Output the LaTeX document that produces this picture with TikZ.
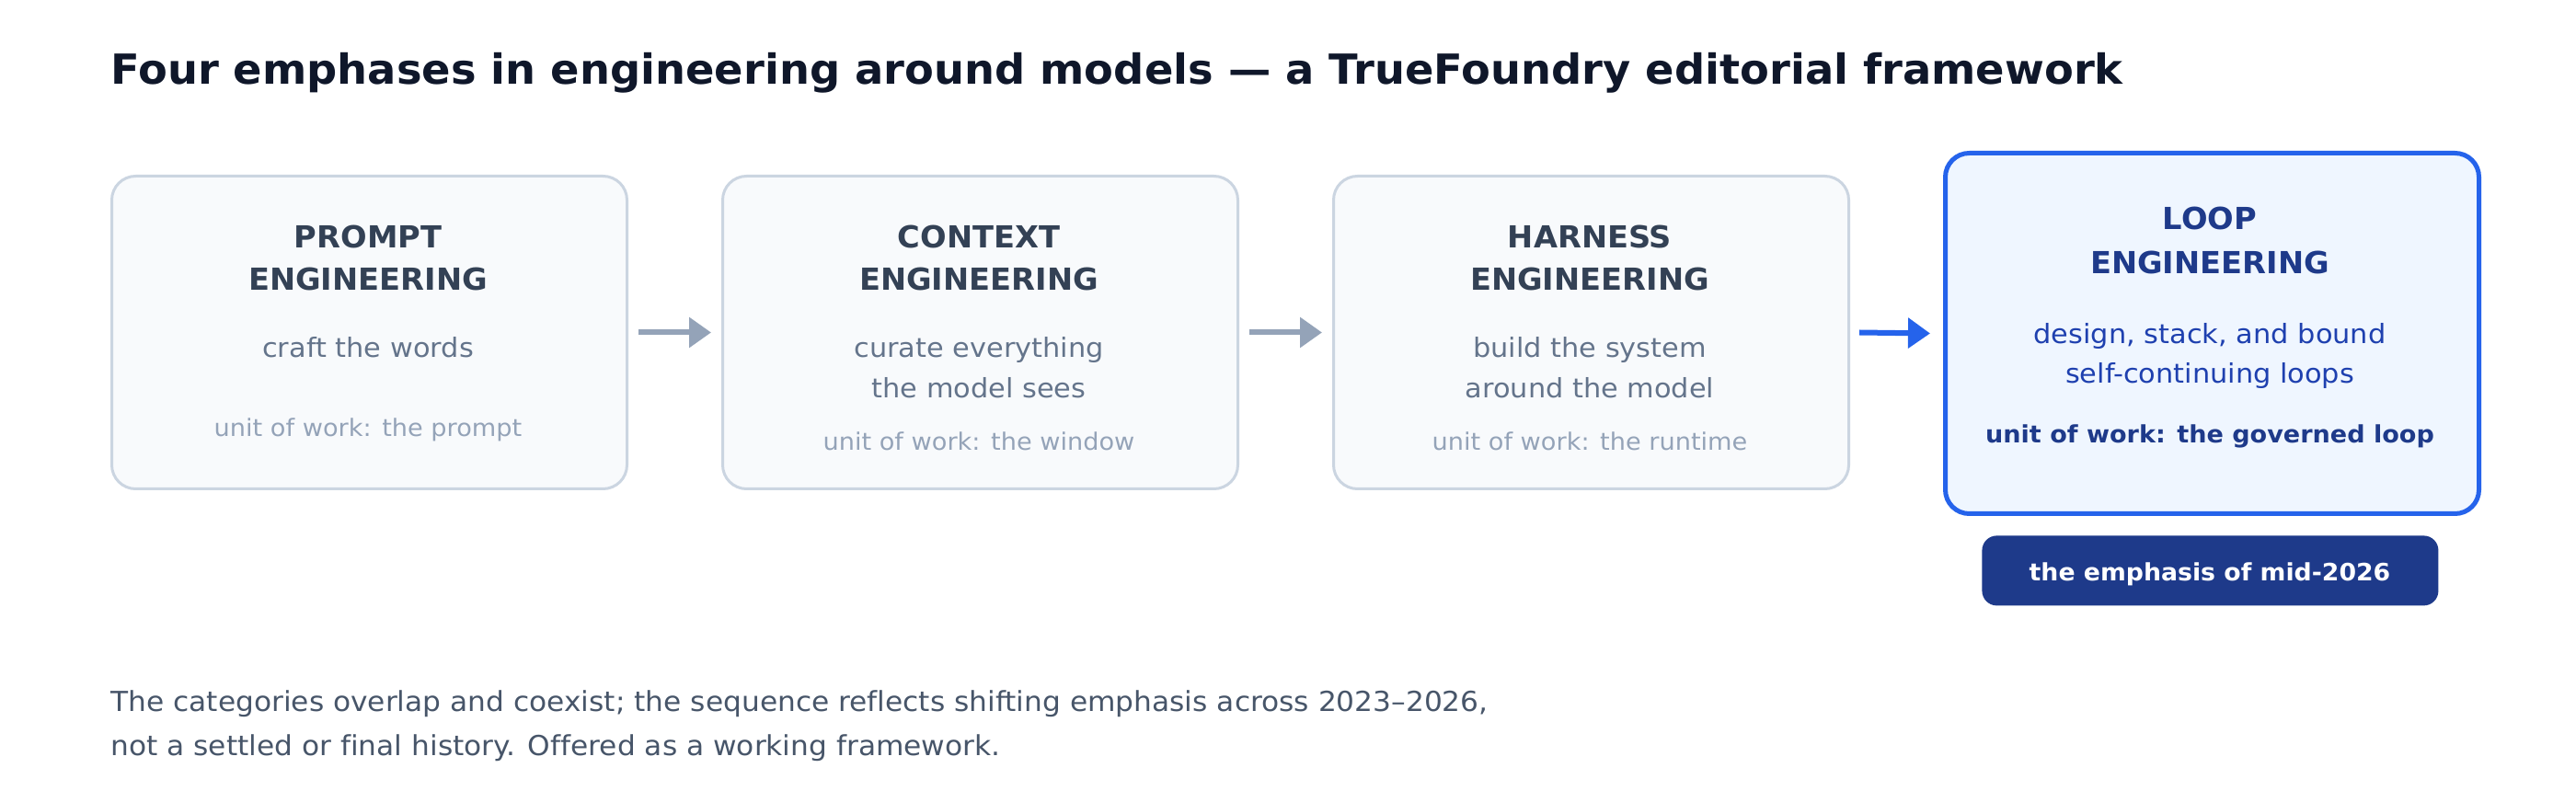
\documentclass[tikz,border=0pt]{standalone}
\usepackage{graphicx}
\usepackage{fontspec}
\setmainfont{DejaVu Sans}[Ligatures=NoCommon]
\usetikzlibrary{arrows.meta}
\definecolor{titlec}{HTML}{0F172A}
\definecolor{boxtitle}{HTML}{334155}
\definecolor{subc}{HTML}{64748B}
\definecolor{unitc}{HTML}{94A3B8}
\definecolor{gborder}{HTML}{CBD5E1}
\definecolor{gfill}{HTML}{F8FAFC}
\definecolor{bfill}{HTML}{EFF6FF}
\definecolor{bborder}{HTML}{2563EB}
\definecolor{navy}{HTML}{1E3A8A}
\definecolor{bsub}{HTML}{1E40AF}
\definecolor{footc}{HTML}{475569}
\definecolor{garrowc}{HTML}{94A3B8}
\newcommand{\hs}[2]{\scalebox{#1}[1]{#2}}
\tikzset{
  gbox/.style={draw=gborder, line width=1.5pt, fill=gfill, rounded corners=13pt, minimum width=280pt, minimum height=170pt, anchor=north west, inner sep=0pt},
  bbox/.style={draw=bborder, line width=2.5pt, fill=bfill, rounded corners=13pt, minimum width=290pt, minimum height=196pt, anchor=north west, inner sep=0pt},
  badge/.style={fill=navy, rounded corners=8pt, minimum width=248pt, minimum height=38pt, anchor=north west, inner sep=0pt},
  txt/.style={inner sep=0pt, anchor=base},
  ttl/.style={txt, font=\fontsize{16.5}{19}\selectfont\bfseries, text=boxtitle},
  sub/.style={txt, font=\fontsize{14.5}{17}\selectfont, text=subc},
  unit/.style={txt, font=\fontsize{13}{15}\selectfont, text=unitc},
  foot/.style={inner sep=0pt, anchor=base west, font=\fontsize{15}{18}\selectfont, text=footc},
  arr/.style={line width=3pt, -{Triangle[length=12pt,width=16pt]}},
}
\begin{document}
\begin{tikzpicture}[x=1pt,y=-1pt]
\useasboundingbox (0,0) rectangle (1400,430);
\fill[white] (0,0) rectangle (1400,430);
% title
\node[inner sep=0pt, anchor=base west, font=\fontsize{22.5}{26}\selectfont\bfseries, text=titlec] (title) at (60,46) {\hs{1.03}{Four emphases in engineering around models — a TrueFoundry editorial framework}};
% boxes
\node[gbox] (b1) at (60,95) {};
\node[gbox] (b2) at (392,95) {};
\node[gbox] (b3) at (724,95) {};
\node[bbox] (b4) at (1056,82) {};
% arrows
\draw[arr, draw=garrowc, fill=garrowc] ([xshift=5.5pt]b1.east) -- ([xshift=-5.5pt]b2.west);
\draw[arr, draw=garrowc, fill=garrowc] ([xshift=5.5pt]b2.east) -- ([xshift=-5.5pt]b3.west);
\draw[arr, draw=bborder, fill=bborder] ([xshift=5pt]b3.east) -- ([xshift=-7pt]b4.west);
% box 1
\node[ttl] (t1a) at (200,135) {\hs{1.02}{PROMPT}};
\node[ttl] (t1b) at (200,158) {\hs{1.02}{ENGINEERING}};
\node[sub] (s1) at (200,194.5) {\hs{1.048}{craft the words}};
\node[unit] (u1) at (200,237.5) {\hs{1.045}{unit of work: the prompt}};
% box 2
\node[ttl] (t2a) at (532,135) {\hs{1.02}{CONTEXT}};
\node[ttl] (t2b) at (532,158) {\hs{1.02}{ENGINEERING}};
\node[sub] (s2a) at (532,194.5) {\hs{1.048}{curate everything}};
\node[sub] (s2b) at (532,216.5) {\hs{1.048}{the model sees}};
\node[unit] (u2) at (532,244.6) {\hs{1.045}{unit of work: the window}};
% box 3
\node[ttl] (t3a) at (864,135) {\hs{1.02}{HARNESS}};
\node[ttl] (t3b) at (864,158) {\hs{1.02}{ENGINEERING}};
\node[sub] (s3a) at (864,194.5) {\hs{1.048}{build the system}};
\node[sub] (s3b) at (864,216.5) {\hs{1.048}{around the model}};
\node[unit] (u3) at (864,244.6) {\hs{1.045}{unit of work: the runtime}};
% box 4
\node[ttl, text=navy] (t4a) at (1201,125) {\hs{1.02}{LOOP}};
\node[ttl, text=navy] (t4b) at (1201,149) {\hs{1.02}{ENGINEERING}};
\node[sub, text=bsub] (s4a) at (1201,187) {\hs{1.048}{design, stack, and bound}};
\node[sub, text=bsub] (s4b) at (1201,208.5) {\hs{1.048}{self-continuing loops}};
\node[unit, font=\fontsize{13}{15}\selectfont\bfseries, text=navy] (u4) at (1201,240.7) {\hs{1.041}{unit of work: the governed loop}};
% badge
\node[badge] (bd) at (1077,291) {};
\node[txt, font=\fontsize{13}{16}\selectfont\bfseries, text=white] (bdt) at (1201,315.7) {\hs{1.028}{the emphasis of mid-2026}};
% footer
\node[foot] (f1) at (60,386.5) {\hs{1.042}{The categories overlap and coexist; the sequence reflects shifting emphasis across 2023–2026,}};
\node[foot] (f2) at (60,410.5) {\hs{1.042}{not a settled or final history. Offered as a working framework.}};
\end{tikzpicture}
\end{document}
